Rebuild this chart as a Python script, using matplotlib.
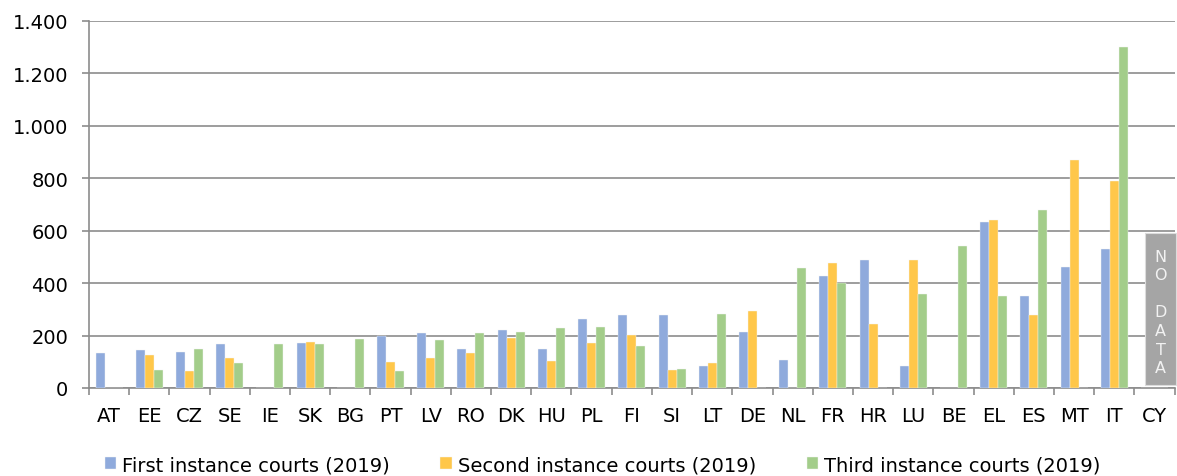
import matplotlib
matplotlib.use("Agg")
import matplotlib.pyplot as plt
import numpy as np
from matplotlib.ticker import FuncFormatter, FixedLocator

countries = ["AT", "EE", "CZ", "SE", "IE", "SK", "BG", "PT", "LV", "RO", "DK", "HU", "PL", "FI",
             "SI", "LT", "DE", "NL", "FR", "HR", "LU", "BE", "EL", "ES", "MT", "IT", "CY"]
first_instance = [132, 144, 136, 166, 0, 170, 0, 197, 211, 148, 220, 148, 265, 277,
                  277, 82, 215, 107, 428, 487, 82, 0, 634, 349, 462, 529, 0]
second_instance = [0, 127, 65, 113, 0, 174, 0, 98, 113, 135, 191, 102, 173, 202,
                   67, 97, 294, 0, 478, 245, 487, 0, 639, 278, 871, 788, 0]
third_instance = [0, 69, 148, 94, 169, 169, 186, 65, 182, 210, 215, 227, 231, 160,
                  73, 281, 0, 458, 399, 0, 357, 541, 349, 680, 0, 1302, 0]
series_labels = ["First instance courts (2019)", "Second instance courts (2019)",
                 "Third instance courts (2019)"]
no_data_country = "CY"
no_data_text = "N\nO\n\nD\nA\nT\nA"

colors = ["#8faadc", "#ffc74a", "#a3cd8a"]
plt.rcParams['font.family'] = ['DejaVu Sans']

fig = plt.figure(figsize=(11.77, 4.77), dpi=100)
ax = fig.add_axes([0.0756, 0.1845, 0.9224, 0.7695])

x = np.arange(len(countries))
w = 0.224
for i, (vals, c, lab) in enumerate(zip([first_instance, second_instance, third_instance], colors, series_labels)):
    ax.bar(x + (i - 1) * w, vals, width=w, color=c, edgecolor="#f4f4f4", linewidth=0.3,
           label=lab, zorder=3)

# NO DATA box
cy = countries.index(no_data_country)
ax.bar(cy + 0.15, 582, bottom=10, width=0.77, color="#a5a5a5", edgecolor="#dcdcdc",
       linewidth=0.8, zorder=3, clip_on=False)
ax.text(cy + 0.15, 290, no_data_text, ha="center", va="center", color="#f2f2f2",
        fontsize=11.5, linespacing=1.3, zorder=4, clip_on=False)

ax.set_xlim(-0.5, len(countries) - 0.5)
ax.set_ylim(0, 1400)
ax.set_yticks(np.arange(0, 1401, 200))
ax.yaxis.set_major_formatter(FuncFormatter(lambda v, p: f"{int(v):,}".replace(",", ".")))
ax.yaxis.grid(True, color="#8c8c8c", linewidth=1.2, zorder=0)
ax.set_axisbelow(True)

ax.set_xticks(x)
ax.set_xticklabels(countries)
ax.xaxis.set_minor_locator(FixedLocator(np.arange(-0.5, len(countries), 1.0)))
ax.tick_params(axis="x", which="major", length=0, pad=13, labelsize=14, colors="black")
ax.tick_params(axis="x", which="minor", length=5, width=1.2, color="#8c8c8c")
ax.tick_params(axis="y", length=5, width=1.2, color="#8c8c8c", pad=10, labelsize=14)

for s in ["top", "right"]:
    ax.spines[s].set_visible(False)
for s in ["left", "bottom"]:
    ax.spines[s].set_color("#8c8c8c")
    ax.spines[s].set_linewidth(1.2)

fig.legend(loc="center", bbox_to_anchor=(0.512, 0.024), ncol=3, frameon=False,
           fontsize=14, handlelength=0.6, handleheight=0.6, handletextpad=0.3,
           columnspacing=2.6)

fig.savefig("out.png", dpi=100)
